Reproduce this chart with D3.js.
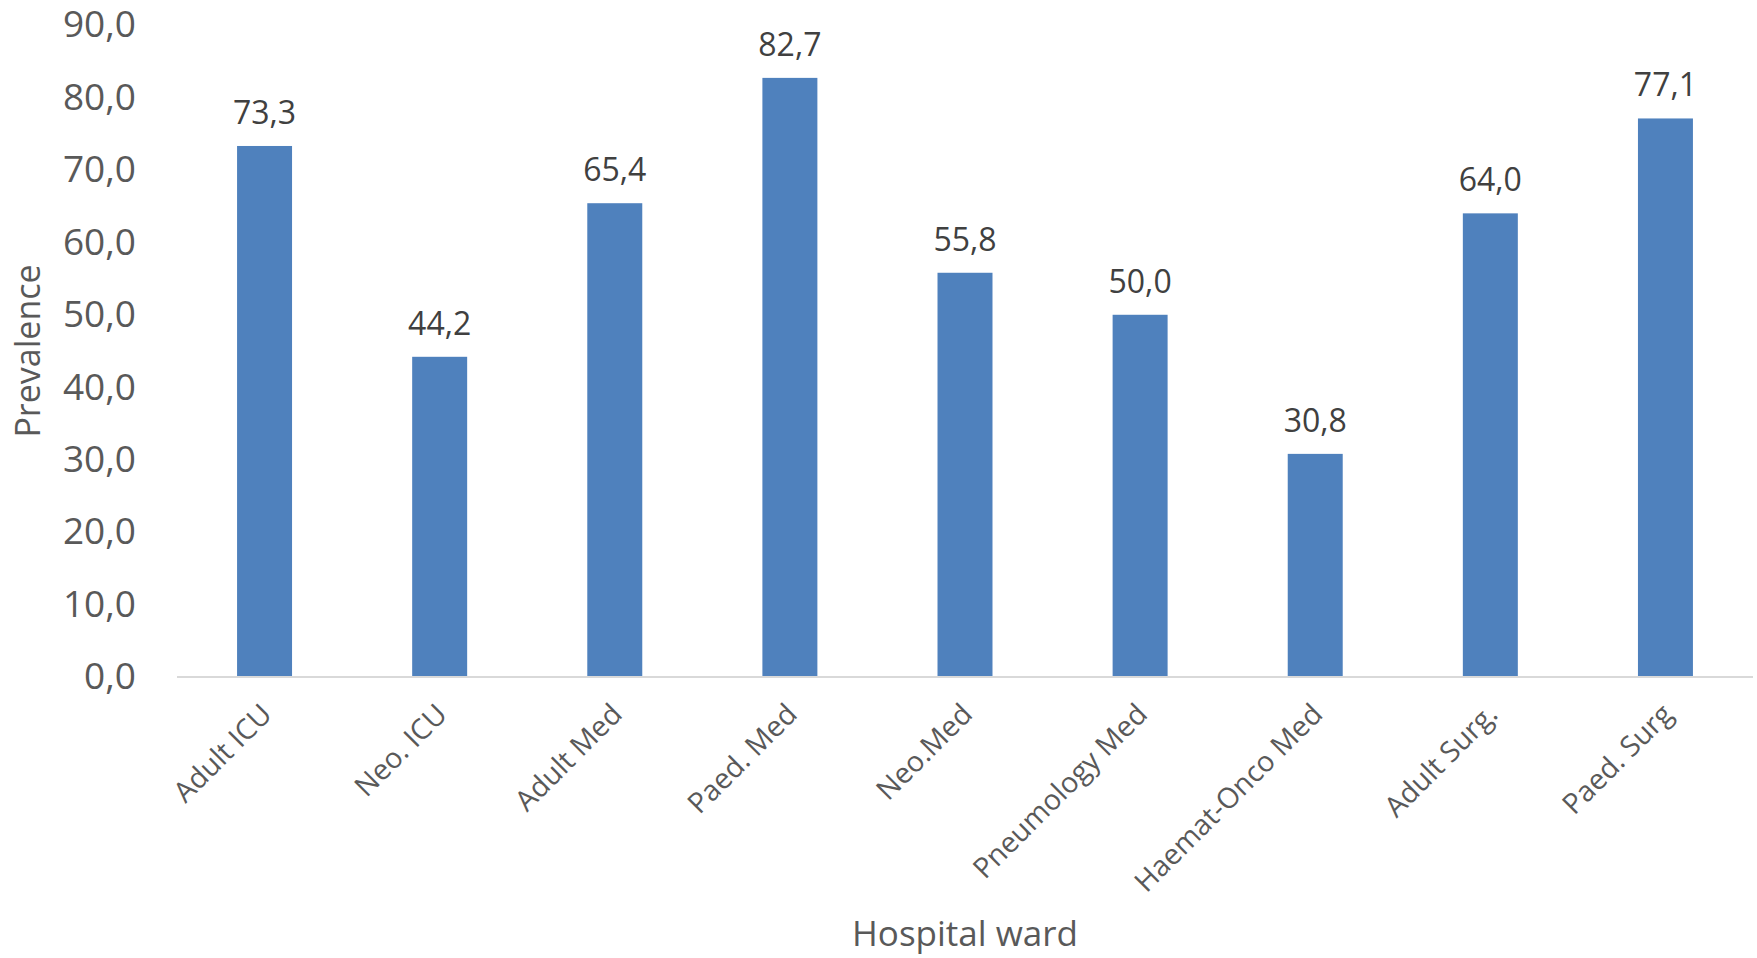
<!DOCTYPE html>
<html>
<head>
<meta charset="utf-8">
<script src="https://cdn.jsdelivr.net/npm/d3@7"></script>
<style>
  html, body { margin: 0; padding: 0; background: #fff; }
  svg { display: block; font-family: "Open Sans", "Noto Sans", sans-serif; }
</style>
</head>
<body>
<svg id="chart" width="1757" height="958"></svg>
<script>
const categories = ["Adult ICU", "Neo. ICU", "Adult Med", "Paed. Med", "Neo.Med", "Pneumology Med", "Haemat-Onco Med", "Adult Surg.", "Paed. Surg"];
const values = [73.3, 44.2, 65.4, 82.7, 55.8, 50.0, 30.8, 64.0, 77.1];
const yTicks = [0, 10, 20, 30, 40, 50, 60, 70, 80, 90];
const xTitle = "Hospital ward";
const yTitle = "Prevalence";

(function () {
const svg = d3.select("#chart");
const pLeft = 177, pRight = 1753, pTop = 25, pBottom = 677;
const fmt = v => v.toFixed(1).replace(".", ",");

const x = d3.scaleBand().domain(categories).range([pLeft, pRight]).paddingInner(0.686).paddingOuter(0.343);
const y = d3.scaleLinear().domain([0, 90]).range([pBottom, pTop]);

// bars
svg.append("g").selectAll("rect").data(values).join("rect")
  .attr("x", (d, i) => x(categories[i]))
  .attr("y", d => y(d))
  .attr("width", x.bandwidth())
  .attr("height", d => y(0) - y(d))
  .attr("fill", "#4F81BD");

// baseline axis
const xAxis = svg.append("g").attr("transform", `translate(0,${pBottom})`)
  .call(d3.axisBottom(x).tickSize(0).tickFormat(""));
xAxis.select(".domain").attr("stroke", "#D9D9D9").attr("stroke-width", 2)
  .attr("d", `M${pLeft},0H${pRight}`);

// x category labels
svg.append("g").selectAll("text").data(categories).join("text")
  .attr("transform", d => `translate(${x(d) + x.bandwidth() / 2 + 9},${pBottom + 39}) rotate(-45)`)
  .attr("text-anchor", "end")
  .attr("font-size", 28.5)
  .attr("fill", "#595959")
  .text(d => d);

// y axis labels
const yAxis = svg.append("g").attr("transform", `translate(${pLeft},0)`)
  .call(d3.axisLeft(y).tickValues(yTicks).tickSize(0).tickPadding(41).tickFormat(fmt));
yAxis.select(".domain").remove();
yAxis.selectAll("text").attr("font-size", 37).attr("fill", "#595959")
  .attr("font-family", "'Open Sans', sans-serif");

// data labels
svg.append("g").selectAll("text").data(values).join("text")
  .attr("x", (d, i) => x(categories[i]) + x.bandwidth() / 2)
  .attr("y", d => y(d) - 22)
  .attr("text-anchor", "middle")
  .attr("font-size", 32)
  .attr("fill", "#404040")
  .text(fmt);

// axis titles
svg.append("text")
  .attr("x", 965).attr("y", 946)
  .attr("text-anchor", "middle")
  .attr("font-size", 35)
  .attr("fill", "#595959")
  .text(xTitle);

svg.append("text")
  .attr("transform", `translate(40,351) rotate(-90)`)
  .attr("text-anchor", "middle")
  .attr("font-size", 34)
  .attr("fill", "#595959")
  .text(yTitle);
})();
</script>
</body>
</html>
